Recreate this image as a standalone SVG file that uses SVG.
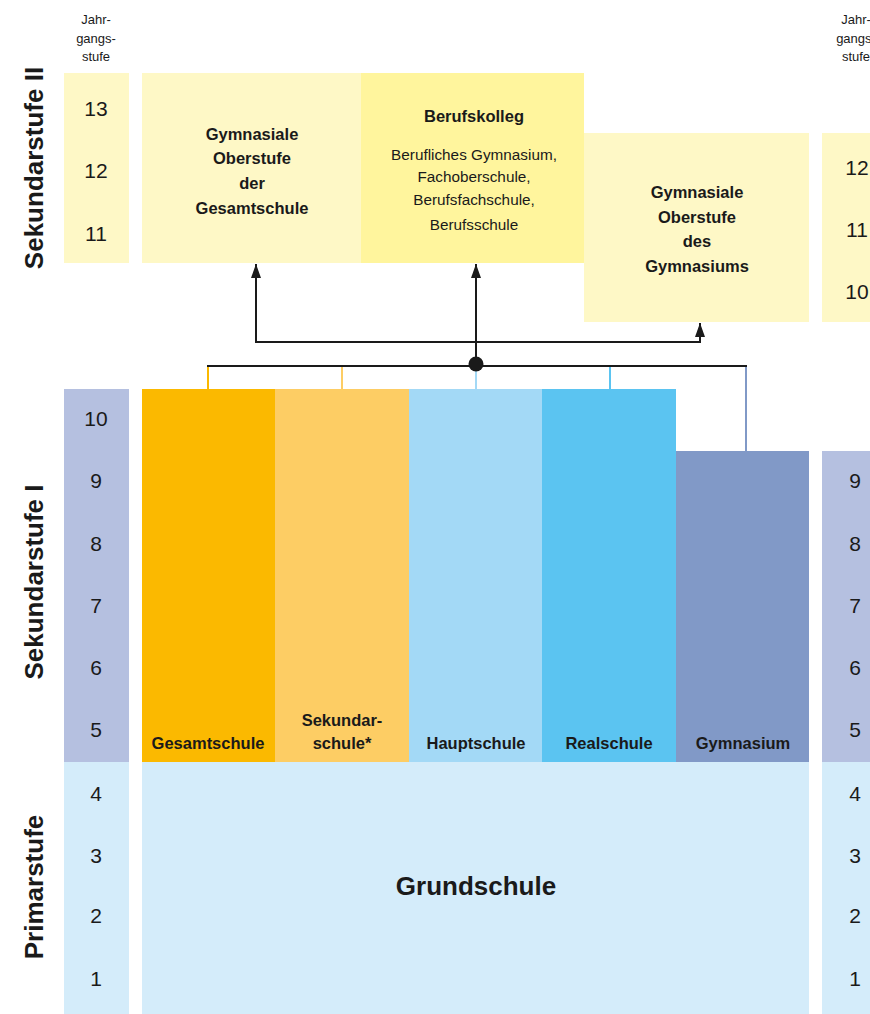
<svg xmlns="http://www.w3.org/2000/svg" width="870" height="1014" viewBox="0 0 870 1014">
<defs>
<style>
text{font-family:"Liberation Sans",Arial,sans-serif;fill:#1a1a1a;text-anchor:middle}
.num{font-size:21px}
.hdr{font-size:13px}
.side{font-size:26px;font-weight:bold}
.b{font-size:16.5px;font-weight:bold}
.r{font-size:15.3px}
.lbl{font-size:16.5px;font-weight:bold}
.conn{fill:none;stroke:#1a1a1a;stroke-width:2}
</style>
<marker id="ah2" viewBox="0 0 14 10" refX="14" refY="5" markerWidth="14" markerHeight="10" orient="auto" markerUnits="userSpaceOnUse">
<path d="M0,0 L14,5 L0,10 z" fill="#1a1a1a"/>
</marker>
</defs>
<rect width="870" height="1014" fill="#fff"/>

<g id="side-labels">
<text class="side" transform="translate(43,168) rotate(-90)">Sekundarstufe II</text>
<text class="side" transform="translate(43,582) rotate(-90)">Sekundarstufe I</text>
<text class="side" transform="translate(43,887) rotate(-90)">Primarstufe</text>
</g>

<g id="left-scale">
<text class="hdr" x="96" y="24">Jahr-</text>
<text class="hdr" x="96" y="43">gangs-</text>
<text class="hdr" x="96" y="61">stufe</text>
<rect x="64" y="73" width="65" height="190" fill="#fef8c6"/>
<rect x="64" y="389" width="65" height="373" fill="#b5c0e0"/>
<rect x="64" y="762" width="65" height="252" fill="#d4ecfa"/>
<text class="num" x="96" y="116">13</text>
<text class="num" x="96" y="178">12</text>
<text class="num" x="96" y="241">11</text>
<text class="num" x="96" y="426">10</text>
<text class="num" x="96" y="488">9</text>
<text class="num" x="96" y="551">8</text>
<text class="num" x="96" y="613">7</text>
<text class="num" x="96" y="675">6</text>
<text class="num" x="96" y="737">5</text>
<text class="num" x="96" y="801">4</text>
<text class="num" x="96" y="863">3</text>
<text class="num" x="96" y="923">2</text>
<text class="num" x="96" y="986">1</text>
</g>

<g id="right-scale">
<text class="hdr" x="856" y="24">Jahr-</text>
<text class="hdr" x="856" y="43">gangs-</text>
<text class="hdr" x="856" y="61">stufe</text>
<rect x="822" y="133" width="60" height="189" fill="#fef8c6"/>
<rect x="822" y="451" width="60" height="311" fill="#b5c0e0"/>
<rect x="822" y="762" width="60" height="252" fill="#d4ecfa"/>
<text class="num" x="857" y="175">12</text>
<text class="num" x="857" y="237">11</text>
<text class="num" x="857" y="299">10</text>
<text class="num" x="855" y="488">9</text>
<text class="num" x="855" y="551">8</text>
<text class="num" x="855" y="613">7</text>
<text class="num" x="855" y="675">6</text>
<text class="num" x="855" y="737">5</text>
<text class="num" x="855" y="801">4</text>
<text class="num" x="855" y="863">3</text>
<text class="num" x="855" y="923">2</text>
<text class="num" x="855" y="986">1</text>
</g>

<g id="go-gesamtschule">
<rect x="142" y="73" width="219" height="190" fill="#fef8c6"/>
<text class="b" x="252" y="140">Gymnasiale</text>
<text class="b" x="252" y="164">Oberstufe</text>
<text class="b" x="252" y="189">der</text>
<text class="b" x="252" y="214">Gesamtschule</text>
</g>

<g id="berufskolleg">
<rect x="361" y="73" width="223" height="190" fill="#fff59d"/>
<text class="b" x="474" y="122">Berufskolleg</text>
<text class="r" x="474" y="160">Berufliches Gymnasium,</text>
<text class="r" x="474" y="182">Fachoberschule,</text>
<text class="r" x="474" y="205">Berufsfachschule,</text>
<text class="r" x="474" y="230">Berufsschule</text>
</g>

<g id="go-gymnasium">
<rect x="584" y="133" width="225" height="189" fill="#fef8c6"/>
<text class="b" x="697" y="198">Gymnasiale</text>
<text class="b" x="697" y="223">Oberstufe</text>
<text class="b" x="697" y="247">des</text>
<text class="b" x="697" y="272">Gymnasiums</text>
</g>

<g id="gesamtschule">
<rect x="142" y="389" width="133" height="373" fill="#fbb900"/>
<text class="lbl" x="208" y="749">Gesamtschule</text>
</g>
<g id="sekundarschule">
<rect x="275" y="389" width="134" height="373" fill="#fdcd64"/>
<text class="lbl" x="342" y="726">Sekundar-</text>
<text class="lbl" x="342" y="749">schule*</text>
</g>
<g id="hauptschule">
<rect x="409" y="389" width="133" height="373" fill="#a3d9f6"/>
<text class="lbl" x="476" y="749">Hauptschule</text>
</g>
<g id="realschule">
<rect x="542" y="389" width="134" height="373" fill="#5bc4f1"/>
<text class="lbl" x="609" y="749">Realschule</text>
</g>
<g id="gymnasium">
<rect x="676" y="451" width="133" height="311" fill="#8199c7"/>
<text class="lbl" x="743" y="749">Gymnasium</text>
</g>

<g id="grundschule">
<rect x="142" y="762" width="667" height="252" fill="#d4ecfa"/>
<text x="476" y="895" style="font-size:26px;font-weight:bold">Grundschule</text>
</g>

<g id="connectors">
<line x1="208" y1="366" x2="208" y2="389" stroke="#fbb900" stroke-width="2"/>
<line x1="342" y1="366" x2="342" y2="389" stroke="#fdcd64" stroke-width="2"/>
<line x1="476" y1="366" x2="476" y2="389" stroke="#a3d9f6" stroke-width="2"/>
<line x1="610" y1="366" x2="610" y2="389" stroke="#5bc4f1" stroke-width="2"/>
<line x1="746" y1="366" x2="746" y2="451" stroke="#8199c7" stroke-width="2"/>
<line class="conn" x1="207" y1="366" x2="747" y2="366"/>
<circle cx="476" cy="364" r="7.5" fill="#1a1a1a"/>
<line class="conn" x1="476" y1="364" x2="476" y2="264" marker-end="url(#ah2)"/>
<polyline class="conn" points="256,290 256,342 700,342 700,323" marker-end="url(#ah2)"/>
<line class="conn" x1="256" y1="300" x2="256" y2="264" marker-end="url(#ah2)"/>
</g>
</svg>
